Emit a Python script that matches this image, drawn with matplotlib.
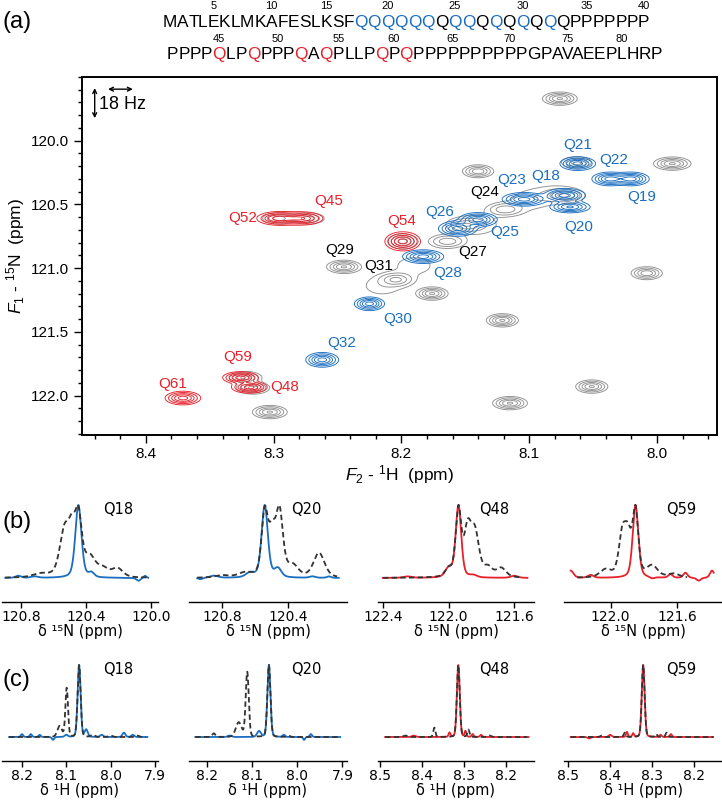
import numpy as np
import matplotlib
matplotlib.use("Agg")
import matplotlib.pyplot as plt
from matplotlib.ticker import MultipleLocator, FormatStrFormatter, FixedLocator
from matplotlib.font_manager import FontProperties

# ---------------- data ----------------
# (a) sequence
seq_row1 = "MATLEKLMKAFESLKSFQQQQQQQQQQQQQQQQPPPPPPP"
seq_row2 = "PPPPQLPQPPPQAQPLLPQPQPPPPPPPPPPGPAVAEEPLHRP"
seq_blue = [18, 19, 20, 21, 22, 23, 25, 26, 28, 30, 32]
seq_red = [45, 48, 52, 54, 59, 61]
seq_numbers = [5, 10, 15, 20, 25, 30, 35, 40, 45, 50, 55, 60, 65, 70, 75, 80]

# (a) 2D peaks: 1H (ppm), 15N (ppm), intensity, width 1H, width 15N
blue_names = ["Q18", "Q20", "Q21", "Q22", "Q19", "Q23", "Q25", "Q26", "Q28", "Q30", "Q32"]
blue_H = [8.072, 8.068, 8.062, 8.037, 8.020, 8.104, 8.140, 8.156, 8.183, 8.225, 8.262]
blue_N = [120.43, 120.52, 120.18, 120.30, 120.30, 120.46, 120.62, 120.69, 120.91, 121.28, 121.72]
blue_I = [1.0, 0.9, 1.0, 1.0, 1.0, 1.0, 1.0, 1.0, 1.0, 1.0, 1.0]
blue_wH = [0.0075, 0.0075, 0.0065, 0.0065, 0.0065, 0.0080, 0.0070, 0.0070, 0.0075, 0.0055, 0.0060]
blue_wN = [0.026, 0.022, 0.025, 0.025, 0.025, 0.025, 0.026, 0.028, 0.025, 0.025, 0.027]

red_names = ["Q52", "Q45", "Q54", "Q59", "Q48", "Q61"]
red_H = [8.296, 8.278, 8.199, 8.326, 8.319, 8.371]
red_N = [120.61, 120.61, 120.79, 121.86, 121.935, 122.02]
red_I = [1.0, 0.85, 1.0, 1.0, 1.0, 1.0]
red_wH = [0.0080, 0.0080, 0.0065, 0.0065, 0.0065, 0.0065]
red_wN = [0.025, 0.025, 0.035, 0.022, 0.022, 0.025]

grey_H = [8.076, 7.988, 8.140, 8.245, 8.204, 8.008, 8.176, 8.121, 8.051, 8.115, 8.303,
          8.199, 8.322, 8.316, 8.296, 8.273, 8.164, 8.119, 8.072, 8.063, 8.150,
          8.215, 8.190, 8.140, 8.100, 8.080]
grey_N = [119.67, 120.18, 120.24, 120.99, 121.09, 121.04, 121.20, 121.41, 121.93, 122.06, 122.13,
          120.79, 121.86, 121.94, 120.61, 120.61, 120.79, 120.54, 120.43, 120.17, 120.66,
          121.14, 120.98, 120.66, 120.47, 120.42]
grey_I = [0.9, 0.9, 0.8, 0.9, 0.6, 0.8, 0.9, 0.9, 0.9, 0.9, 0.9,
          0.7, 0.7, 0.7, 0.5, 0.5, 0.55, 0.55, 0.5, 0.5, 0.5,
          0.17, 0.17, 0.19, 0.17, 0.19]
grey_wH = [0.0065, 0.0070, 0.0060, 0.0065, 0.0075, 0.0060, 0.0060, 0.0060, 0.0060, 0.0065, 0.0065,
           0.0060, 0.0065, 0.0065, 0.0070, 0.0070, 0.0080, 0.0080, 0.0080, 0.0065, 0.0080,
           0.0120, 0.0120, 0.0120, 0.0120, 0.0120]
grey_wN = [0.025, 0.025, 0.025, 0.025, 0.030, 0.025, 0.025, 0.025, 0.025, 0.025, 0.025,
           0.030, 0.025, 0.025, 0.025, 0.025, 0.030, 0.030, 0.030, 0.025, 0.030,
           0.060, 0.060, 0.060, 0.060, 0.050]

# label positions in spectrum (1H, 15N)
lab_names = ["Q21", "Q22", "Q19", "Q18", "Q23", "Q24", "Q20", "Q26", "Q25", "Q54", "Q27",
             "Q28", "Q31", "Q29", "Q45", "Q52", "Q30", "Q32", "Q59", "Q48", "Q61"]
lab_H = [8.062, 8.034, 8.012, 8.087, 8.114, 8.135, 8.061, 8.170, 8.119, 8.200, 8.144,
         8.164, 8.218, 8.248, 8.257, 8.324, 8.203, 8.247, 8.328, 8.291, 8.379]
lab_N = [120.03, 120.15, 120.44, 120.28, 120.31, 120.40, 120.68, 120.56, 120.72, 120.63, 120.87,
         121.04, 120.98, 120.86, 120.47, 120.61, 121.40, 121.59, 121.70, 121.93, 121.91]
lab_color = ["blue", "blue", "blue", "blue", "blue", "black", "blue", "blue", "blue", "red", "black",
             "blue", "black", "black", "red", "red", "blue", "blue", "red", "red", "red"]

# (b) 15N traces: peaks (position, height, FWHM)
b_names = ["Q18", "Q20", "Q48", "Q59"]
b_color = ["blue", "blue", "red", "red"]
b_xlim = [(120.92, 119.96), (121.0, 120.04), (122.43, 121.48), (122.28, 121.33)]
b_ticks = [[120.8, 120.4, 120.0], [120.8, 120.4], [122.4, 122.0, 121.6], [122.0, 121.6]]
b_range_col = [(120.90, 120.02), (120.95, 120.09), (122.40, 121.52), (122.24, 121.38)]
b_range_dash = [(120.90, 120.02), (120.95, 120.10), (122.40, 121.57), (122.20, 121.54)]
b_peaks_col = [
    [(120.45, 1.0, 0.045), (120.37, 0.06, 0.04), (120.82, 0.03, 0.04), (120.72, 0.02, 0.05),
     (120.08, -0.04, 0.03), (120.04, 0.03, 0.02)],
    [(120.54, 1.0, 0.045), (120.46, 0.12, 0.05), (120.63, 0.06, 0.06), (120.85, 0.03, 0.06),
     (120.93, -0.02, 0.03), (120.25, 0.02, 0.04), (120.15, 0.02, 0.03)],
    [(121.94, 1.0, 0.04), (122.00, 0.12, 0.05), (121.85, 0.03, 0.05), (122.25, 0.02, 0.06),
     (121.60, 0.03, 0.05)],
    [(121.85, 1.0, 0.04), (122.24, 0.10, 0.04), (122.12, 0.04, 0.04), (121.64, 0.05, 0.03),
     (121.55, 0.07, 0.03), (121.47, -0.04, 0.03), (121.39, 0.10, 0.03), (121.75, -0.02, 0.03)],
]
b_peaks_dash = [
    [(120.45, 0.85, 0.05), (120.535, 0.68, 0.07), (120.49, 0.52, 0.05), (120.38, 0.28, 0.08),
     (120.30, 0.12, 0.08), (120.21, 0.13, 0.08), (120.68, 0.05, 0.12)],
    [(120.54, 0.85, 0.045), (120.45, 0.85, 0.05), (120.495, 0.55, 0.05), (120.37, 0.15, 0.08),
     (120.21, 0.33, 0.08), (120.66, 0.06, 0.10), (120.80, 0.03, 0.10)],
    [(121.94, 0.88, 0.04), (121.84, 0.58, 0.06), (121.885, 0.58, 0.05), (121.76, 0.12, 0.06),
     (121.68, 0.12, 0.07), (122.00, 0.10, 0.05)],
    [(121.85, 0.85, 0.04), (121.93, 0.52, 0.05), (121.895, 0.50, 0.05), (121.75, 0.15, 0.08),
     (122.03, 0.10, 0.08), (121.62, 0.05, 0.08)],
]

# (c) 1H traces
c_names = ["Q18", "Q20", "Q48", "Q59"]
c_color = ["blue", "blue", "red", "red"]
c_xlim = [(8.245, 7.893), (8.24, 7.89), (8.505, 8.134), (8.51, 8.133)]
c_ticks = [[8.2, 8.1, 8.0, 7.9], [8.2, 8.1, 8.0, 7.9], [8.5, 8.4, 8.3, 8.2], [8.5, 8.4, 8.3, 8.2]]
c_range_col = [(8.229, 7.917), (8.226, 7.905), (8.488, 8.147), (8.494, 8.154)]
c_range_dash = [(8.229, 7.920), (8.226, 7.905), (8.488, 8.150), (8.494, 8.154)]
c_peaks_col = [
    [(8.071, 1.0, 0.008), (8.055, 0.10, 0.008), (8.200, 0.04, 0.006), (8.180, 0.04, 0.006),
     (8.160, 0.03, 0.006), (8.130, -0.04, 0.006), (8.100, 0.03, 0.008), (7.970, 0.06, 0.008),
     (7.950, 0.03, 0.008), (8.020, 0.03, 0.008)],
    [(8.063, 1.0, 0.008), (8.085, 0.08, 0.010), (8.030, 0.03, 0.006), (7.985, -0.04, 0.005),
     (7.970, 0.04, 0.006), (8.150, 0.02, 0.010)],
    [(8.314, 1.0, 0.008), (8.297, 0.08, 0.005), (8.335, 0.06, 0.005), (8.280, 0.04, 0.005),
     (8.260, 0.03, 0.006), (8.420, 0.02, 0.010)],
    [(8.321, 1.0, 0.008), (8.360, 0.07, 0.005), (8.345, 0.05, 0.005), (8.280, 0.03, 0.006),
     (8.255, 0.04, 0.006), (8.400, 0.03, 0.008), (8.450, -0.02, 0.008)],
]
c_peaks_dash = [
    [(8.071, 1.0, 0.008), (8.099, 0.68, 0.007), (8.115, 0.15, 0.012), (8.040, 0.03, 0.010),
     (8.000, 0.02, 0.010), (7.940, 0.02, 0.010)],
    [(8.063, 1.0, 0.008), (8.111, 0.90, 0.008), (8.130, 0.20, 0.015), (8.185, 0.05, 0.008),
     (8.020, 0.02, 0.008)],
    [(8.314, 1.0, 0.008), (8.371, 0.13, 0.006), (8.290, 0.10, 0.006), (8.440, 0.02, 0.010),
     (8.240, 0.02, 0.010)],
    [(8.321, 1.0, 0.008), (8.365, 0.06, 0.006), (8.265, 0.06, 0.006), (8.290, 0.04, 0.005),
     (8.420, 0.02, 0.008)],
]

# ---------------- styling ----------------
BLUE = "#1a6ec0"
RED = "#e8202a"
GREY = "#8f8f8f"
DASH = "#333333"
cmap_col = {"blue": BLUE, "red": RED, "black": "black"}

plt.rcParams["mathtext.fontset"] = "custom"
plt.rcParams["mathtext.rm"] = "Liberation Sans"
plt.rcParams["mathtext.it"] = "Liberation Sans:italic"
plt.rcParams["mathtext.bf"] = "Liberation Sans:bold"

W, H = 722, 800
fig = plt.figure(figsize=(W / 100, H / 100), dpi=100)


def fx(px):
    return px / W


def fy(py):
    return 1 - py / H


# ---------------- sequence ----------------
seq_font = FontProperties(family="Liberation Sans", size=12)
num_font = FontProperties(family="Liberation Sans", size=8)
renderer = fig.canvas.get_renderer()


def twidth(s, prop):
    w, h, d = renderer.get_text_width_height_descent(s, prop, ismath=False)
    return w


w1 = twidth(seq_row1, seq_font)
seq_font.set_size(12 * 484 / w1)


def draw_row(seq, first_res, x0, y_letters, y_nums):
    for i, ch in enumerate(seq):
        res = first_res + i
        xleft = x0 + twidth(seq[:i], seq_font) if i > 0 else x0
        cw = twidth(ch, seq_font)
        col = BLUE if res in seq_blue else (RED if res in seq_red else "black")
        fig.text(fx(xleft), fy(y_letters), ch, color=col, fontproperties=seq_font,
                 ha="left", va="baseline")
        if res in seq_numbers:
            fig.text(fx(xleft + cw / 2), fy(y_nums), str(res), fontproperties=num_font,
                     ha="center", va="baseline")


draw_row(seq_row1, 1, 163, 27, 9)
draw_row(seq_row2, 41, 167, 59, 42)

# ---------------- panel labels ----------------
for lab, py in [("(a)", 22), ("(b)", 522), ("(c)", 680)]:
    fig.text(fx(3), fy(py), lab, fontsize=17, family="Liberation Sans", ha="left", va="center")

# ---------------- (a) 2D spectrum ----------------
axL, axR, axT, axB = 82, 717, 77, 435
ax = fig.add_axes([fx(axL), fy(axB), fx(axR - axL), (axB - axT) / H])
Hg = np.linspace(7.95, 8.45, 900)
Ng = np.linspace(119.5, 122.32, 700)
HH, NN = np.meshgrid(Hg, Ng)


def spec2d(Hs, Ns, Is, wHs, wNs):
    Z = np.zeros_like(HH)
    for h, n, i, a, b in zip(Hs, Ns, Is, wHs, wNs):
        Z += i * np.exp(-0.5 * ((HH - h) / a) ** 2 - 0.5 * ((NN - n) / b) ** 2)
    return Z


levels = [0.1, 0.22, 0.4, 0.6, 0.85]
ax.contour(HH, NN, spec2d(grey_H, grey_N, grey_I, grey_wH, grey_wN), levels=levels,
           colors=GREY, linewidths=0.65)
ax.contour(HH, NN, spec2d(blue_H, blue_N, blue_I, blue_wH, blue_wN), levels=levels,
           colors=BLUE, linewidths=0.65)
ax.contour(HH, NN, spec2d(red_H, red_N, red_I, red_wH, red_wN), levels=levels,
           colors=RED, linewidths=0.65)

for name, h, n, c in zip(lab_names, lab_H, lab_N, lab_color):
    ax.text(h, n, name, color=cmap_col[c], fontsize=11, family="Liberation Sans",
            ha="center", va="center")

ax.set_xlim(8.45, 7.953)
ax.set_ylim(122.31, 119.50)
ax.xaxis.set_major_locator(FixedLocator([8.4, 8.3, 8.2, 8.1, 8.0]))
ax.xaxis.set_minor_locator(MultipleLocator(0.02))
ax.yaxis.set_major_locator(FixedLocator([120.0, 120.5, 121.0, 121.5, 122.0]))
ax.yaxis.set_minor_locator(MultipleLocator(0.1))
ax.xaxis.set_major_formatter(FormatStrFormatter("%.1f"))
ax.yaxis.set_major_formatter(FormatStrFormatter("%.1f"))
ax.tick_params(which="major", direction="out", length=6, width=1.0, labelsize=11, pad=3)
ax.tick_params(which="minor", direction="out", length=3, width=1.0)
for lab in ax.get_xticklabels() + ax.get_yticklabels():
    lab.set_family("Liberation Sans")
for s in ax.spines.values():
    s.set_linewidth(1.4)
ax.set_xlabel(r"$F_2$ - $^1$H  (ppm)", fontsize=12.5, family="Liberation Sans", labelpad=1)
ax.set_ylabel(r"$F_1$ - $^{15}$N  (ppm)", fontsize=12.5, family="Liberation Sans", labelpad=3)

# 18 Hz scale bars
ax.annotate("", xy=(0.080, 0.966), xytext=(0.041, 0.966), xycoords="axes fraction",
            arrowprops=dict(arrowstyle="<->", lw=1.0, color="black", shrinkA=0, shrinkB=0,
                            mutation_scale=7))
ax.annotate("", xy=(0.020, 0.885), xytext=(0.020, 0.969), xycoords="axes fraction",
            arrowprops=dict(arrowstyle="<->", lw=1.0, color="black", shrinkA=0, shrinkB=0,
                            mutation_scale=7))
ax.text(0.026, 0.922, "18 Hz", transform=ax.transAxes, fontsize=13, family="Liberation Sans",
        ha="left", va="center")


# ---------------- 1D traces ----------------
def trace(peaks, lo, hi, eta=0.4):
    x = np.linspace(lo, hi, 900)
    y = np.zeros_like(x)
    for p, a, fw in peaks:
        u = (x - p) / fw
        y += a * ((1 - eta) * np.exp(-4 * np.log(2) * u ** 2) + eta / (1 + 4 * u ** 2))
    return x, y / y.max()


col_x = [(2, 158), (189, 347), (378, 534), (564, 722)]


def draw_row1d(top, bottom, names, colors, xlims, ticks, rng_c, rng_d, pk_c, pk_d,
               xlabel, ylim, name_py, eta):
    for k in range(4):
        x0, x1 = col_x[k]
        a = fig.add_axes([fx(x0), fy(bottom), fx(x1 - x0), (bottom - top) / H])
        xd, yd = trace(pk_d[k], *rng_d[k], eta=eta)
        xc, yc = trace(pk_c[k], *rng_c[k], eta=eta)
        a.plot(xc, yc, color=cmap_col[colors[k]], lw=1.3)
        ld, = a.plot(xd, yd, color=DASH, lw=1.3)
        ld.set_dashes([3.0, 1.8])
        a.set_xlim(*xlims[k])
        a.set_ylim(*ylim)
        a.set_xticks(ticks[k])
        a.set_xticklabels([f"{t:.1f}" for t in ticks[k]])
        a.set_yticks([])
        for s in ["left", "right", "top"]:
            a.spines[s].set_visible(False)
        a.spines["bottom"].set_linewidth(1.0)
        a.tick_params(axis="x", direction="out", length=4, width=1.0, labelsize=10, pad=2)
        a.set_xlabel(xlabel, fontsize=10.5, labelpad=0)
        a.patch.set_alpha(0)
        fig.text(fx((x0 + x1) / 2 + 38), fy(name_py), names[k], fontsize=10.5,
                 ha="center", va="center")


draw_row1d(500, 602, b_names, b_color, b_xlim, b_ticks, b_range_col, b_range_dash,
           b_peaks_col, b_peaks_dash, "δ ¹⁵N (ppm)", (-0.329, 1.068), 510, 0.4)
draw_row1d(660, 761, c_names, c_color, c_xlim, c_ticks, c_range_col, c_range_dash,
           c_peaks_col, c_peaks_dash, "δ ¹H (ppm)", (-0.333, 1.07), 670, 0.15)

fig.savefig("out.png", dpi=100)
